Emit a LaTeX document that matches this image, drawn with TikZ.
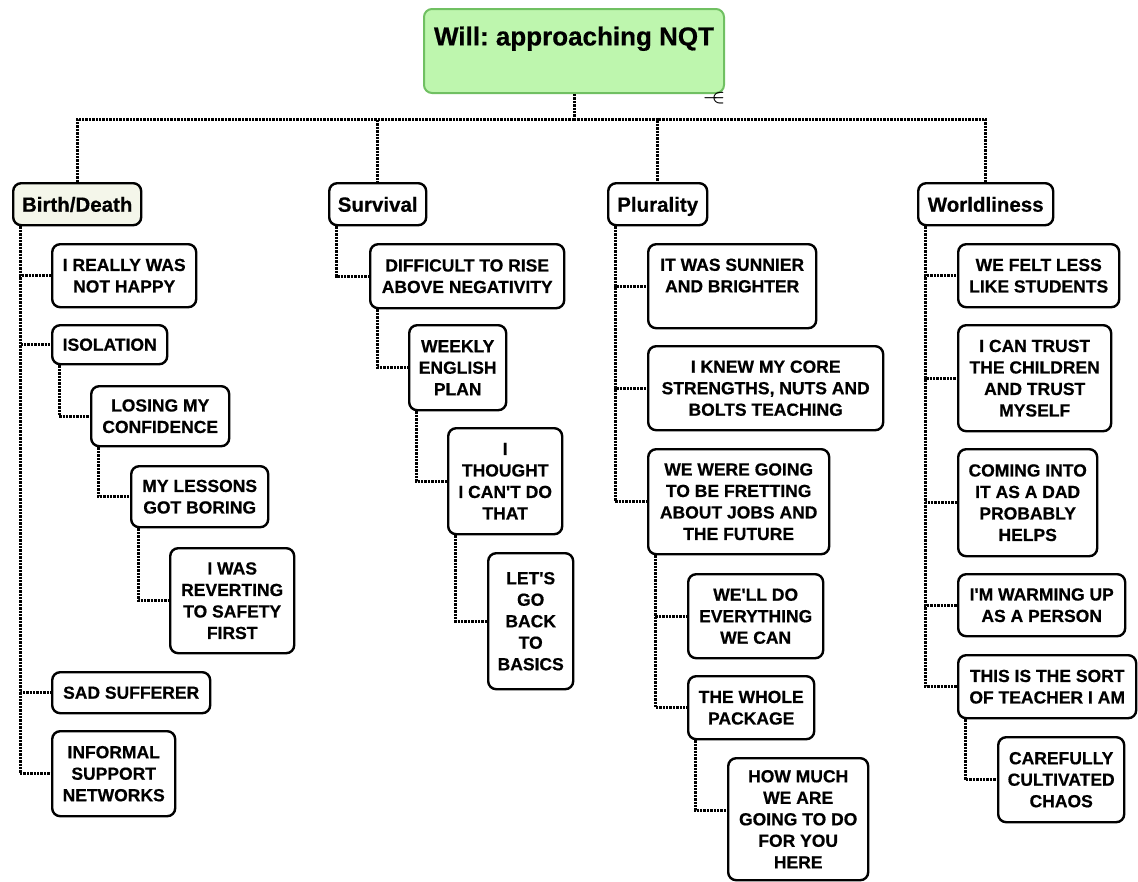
\documentclass[tikz,border=0pt]{standalone}
\usepackage{fontspec}
\setmainfont{Liberation Sans}[Ligatures=TeXOff, BoldFeatures={FakeBold=0.6}]
\frenchspacing
\begin{document}
\begin{tikzpicture}[x=1pt, y=-1pt,
  every node/.style={font=\bfseries},
  boxbase/.style={draw=black, line width=2.4pt, rounded corners=8pt,
    anchor=north west, inner sep=0pt, align=center, fill=white},
  item/.style={boxbase, font=\bfseries\fontsize{17.5}{21.5}\selectfont},
  category/.style={boxbase, minimum height=42pt, text height=19pt, text depth=4pt,
    font=\bfseries\fontsize{20.5}{24}\selectfont},
  rootbox/.style={boxbase, draw=rootedge, fill=rootfill, line width=2pt,
    font=\bfseries\fontsize{26}{30}\selectfont},
  conn/.style={draw=black, line width=3pt, dash pattern=on 2.4pt off 1pt}
]
\definecolor{rootfill}{RGB}{190,246,174}
\definecolor{rootedge}{RGB}{112,192,98}
\definecolor{catfill}{RGB}{244,246,234}

\useasboundingbox (0,0) rectangle (1138,881);

% root and categories
\node[rootbox, minimum width=300pt, minimum height=84pt] (root) at (423,8) {Will: approaching NQT\\~};
\node[font=\boldmath\fontsize{17}{17}\selectfont, inner sep=0pt] (toggle) at (714,98) {$-\mkern-11mu\in$};

\node[category, fill=catfill, minimum width=128pt] (bd) at (12,182) {Birth/Death};
\node[category, minimum width=97pt] (sv) at (328,182) {Survival};
\node[category, minimum width=99pt] (pl) at (607,182) {Plurality};
\node[category, minimum width=135pt] (wl) at (917,182) {Worldliness};

% Birth/Death branch
\node[item, minimum width=144pt, minimum height=63pt] (bd1) at (51,243) {I REALLY WAS\\NOT HAPPY};
\node[item, minimum width=115pt, minimum height=39pt] (bd2) at (51,324) {ISOLATION};
\node[item, minimum width=138pt, minimum height=60pt] (bd3) at (90,385) {LOSING MY\\CONFIDENCE};
\node[item, minimum width=137pt, minimum height=61pt] (bd4) at (130,465) {MY LESSONS\\GOT BORING};
\node[item, minimum width=124pt, minimum height=105pt] (bd5) at (169,547) {I WAS\\REVERTING\\TO SAFETY\\FIRST};
\node[item, minimum width=158pt, minimum height=41pt] (bd6) at (51,671) {SAD SUFFERER};
\node[item, minimum width=123pt, minimum height=85pt] (bd7) at (51,730) {INFORMAL\\SUPPORT\\NETWORKS};

% Survival branch
\node[item, minimum width=194pt, minimum height=64pt] (sv1) at (369,243) {DIFFICULT TO RISE\\ABOVE NEGATIVITY};
\node[item, minimum width=97pt, minimum height=85pt] (sv2) at (408,324) {WEEKLY\\ENGLISH\\PLAN};
\node[item, minimum width=114pt, minimum height=106pt] (sv3) at (447,427) {I\\THOUGHT\\I CAN'T DO\\THAT};
\node[item, minimum width=85pt, minimum height=136pt] (sv4) at (487,552) {LET'S\\GO\\BACK\\TO\\BASICS};

% Plurality branch
\node[item, minimum width=168pt, minimum height=84pt] (pl1) at (647,243) {IT WAS SUNNIER\\AND BRIGHTER\\~};
\node[item, minimum width=235pt, minimum height=84pt] (pl2) at (647,345) {I KNEW MY CORE\\STRENGTHS, NUTS AND\\BOLTS TEACHING};
\node[item, minimum width=181pt, minimum height=105pt] (pl3) at (647,448) {WE WERE GOING\\TO BE FRETTING\\ABOUT JOBS AND\\THE FUTURE};
\node[item, minimum width=135pt, minimum height=84pt] (pl4) at (687,573) {WE'LL DO\\EVERYTHING\\WE CAN};
\node[item, minimum width=126pt, minimum height=63pt] (pl5) at (687,675) {THE WHOLE\\PACKAGE};
\node[item, minimum width=140pt, minimum height=122pt] (pl6) at (727,757) {HOW MUCH\\WE ARE\\GOING TO DO\\FOR YOU\\HERE};

% Worldliness branch
\node[item, minimum width=161pt, minimum height=63pt] (wl1) at (957,243) {WE FELT LESS\\LIKE STUDENTS};
\node[item, minimum width=153pt, minimum height=106pt] (wl2) at (957,324) {I CAN TRUST\\THE CHILDREN\\AND TRUST\\MYSELF};
\node[item, minimum width=139pt, minimum height=107pt] (wl3) at (957,448) {COMING INTO\\IT AS A DAD\\PROBABLY\\HELPS};
\node[item, minimum width=167pt, minimum height=62pt] (wl4) at (957,573) {I'M WARMING UP\\AS A PERSON};
\node[item, minimum width=178pt, minimum height=63pt] (wl5) at (957,654) {THIS IS THE SORT\\OF TEACHER I AM};
\node[item, minimum width=126pt, minimum height=85pt] (wl6) at (997,736) {CAREFULLY\\CULTIVATED\\CHAOS};

% root to categories
\coordinate (hub) at ([yshift=-25pt]root.south);
\draw[conn] (root.south) -- (hub);
\draw[conn] (hub) -| (bd.north);
\draw[conn] (hub) -| (sv.north);
\draw[conn] (hub) -| (pl.north);
\draw[conn] (hub) -| (wl.north);

% tree connectors: down from a parent's lower left, across to the child
\foreach \p/\c in {bd/bd1, bd/bd2, bd/bd6, bd/bd7, bd2/bd3, bd3/bd4, bd4/bd5,
                   sv/sv1, sv1/sv2, sv2/sv3, sv3/sv4,
                   pl/pl1, pl/pl2, pl/pl3, pl3/pl4, pl3/pl5,
                   wl/wl1, wl/wl2, wl/wl3, wl/wl4, wl/wl5, wl5/wl6}
  \draw[conn] ([xshift=8pt]\p.south west) |- (\c.west);
\draw[conn] ([xshift=8pt]pl5.south west) |- ([yshift=9pt]pl6.west);
\end{tikzpicture}
\end{document}
